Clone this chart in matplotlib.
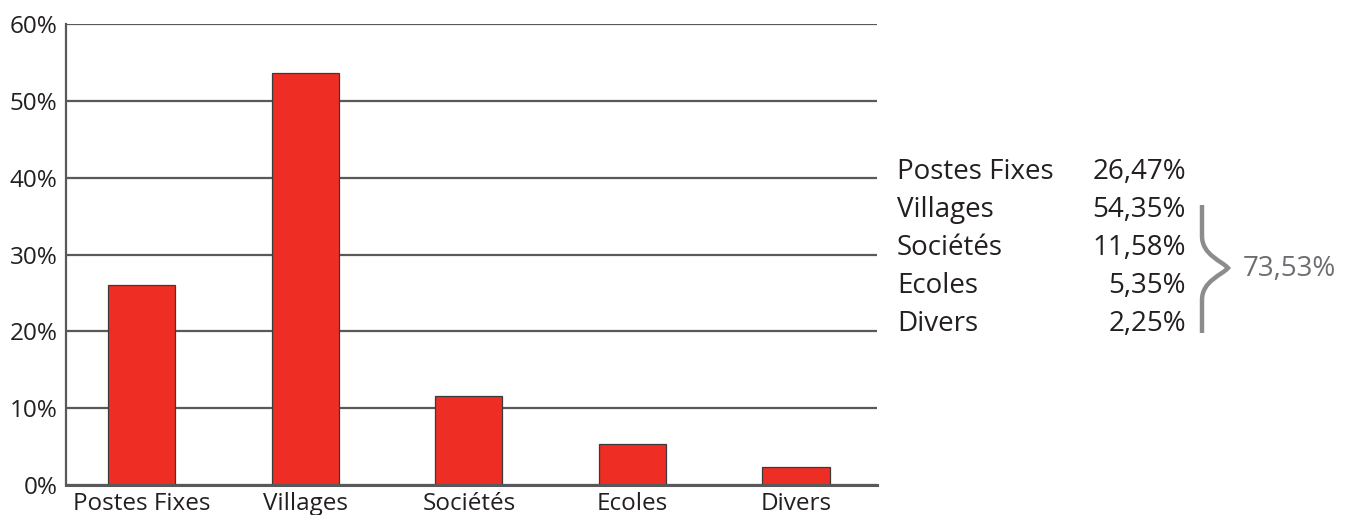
import matplotlib
matplotlib.use("Agg")
import matplotlib.pyplot as plt
from matplotlib.path import Path
from matplotlib.patches import PathPatch
from matplotlib.transforms import Affine2D

plt.rcParams['font.family'] = ['Open Sans', 'DejaVu Sans']

categories = ["Postes Fixes", "Villages", "Sociétés", "Ecoles", "Divers"]
bar_values = [26.0, 53.6, 11.6, 5.3, 2.4]
legend_values = [26.47, 54.35, 11.58, 5.35, 2.25]
y_ticks = [0, 10, 20, 30, 40, 50, 60]

W, H = 1345, 515
fig = plt.figure(figsize=(W / 100, H / 100), dpi=100)
ax = fig.add_axes([66 / W, 1 - 485 / H, (877 - 66) / W, (485 - 24) / H])

text_col = "#231f20"
grid_col = "#58595b"
x = list(range(len(categories)))
ax.bar(x, bar_values, width=0.41, color="#ee2d24", edgecolor="#3a3a3a",
       linewidth=0.9, zorder=3)
ax.set_xlim(-0.463, 4.495)
ax.set_ylim(0, 60)
ax.set_yticks(y_ticks)
ax.set_yticklabels([f"{v}%" for v in y_ticks], fontsize=17.5, color=text_col)
ax.set_xticks(x)
ax.set_xticklabels(categories, fontsize=17.5, color=text_col)
ax.tick_params(axis="both", length=0)
ax.tick_params(axis="y", pad=6)
ax.tick_params(axis="x", pad=5)
ax.yaxis.grid(True, color=grid_col, linewidth=1.6, zorder=0)
ax.set_axisbelow(True)
for s in ["top", "right"]:
    ax.spines[s].set_visible(False)
ax.spines["left"].set_color(grid_col)
ax.spines["left"].set_linewidth(1.6)
ax.spines["bottom"].set_color(grid_col)
ax.spines["bottom"].set_linewidth(2.2)
ax.spines["bottom"].set_zorder(4)

# Right-hand summary list (pixel coordinates, y from top)
tr = Affine2D().scale(1 / W, -1 / H).translate(0, 1) + fig.transFigure
row_y0, row_dy = 172, 38
for i, (c, v) in enumerate(zip(categories, legend_values)):
    y = row_y0 + i * row_dy
    fig.text(897, y, c, transform=tr, fontsize=20, color=text_col,
             ha="left", va="center")
    fig.text(1186, y, f"{v:.2f}".replace(".", ",") + "%", transform=tr,
             fontsize=20, color=text_col, ha="right", va="center")

total = sum(legend_values[1:])
brace_col = "#8c8c8c"
xb, tip_x, ytop, ybot, ymid = 1202, 1228, 205, 333, 268
verts = [(xb, ytop), (xb, 236), (xb, 255), (tip_x - 6, 261), (tip_x, ymid),
         (tip_x - 6, 275), (xb, 281), (xb, 300), (xb, ybot)]
codes = [Path.MOVETO, Path.LINETO, Path.CURVE4, Path.CURVE4, Path.CURVE4,
         Path.CURVE4, Path.CURVE4, Path.CURVE4, Path.LINETO]
fig.add_artist(PathPatch(Path(verts, codes), transform=tr, fill=False,
                         edgecolor=brace_col, linewidth=3.2, capstyle="butt"))
fig.text(1243, 269, f"{total:.2f}".replace(".", ",") + "%", transform=tr,
         fontsize=20, color="#6d6e71", ha="left", va="center")

fig.savefig("out.png", dpi=100)
